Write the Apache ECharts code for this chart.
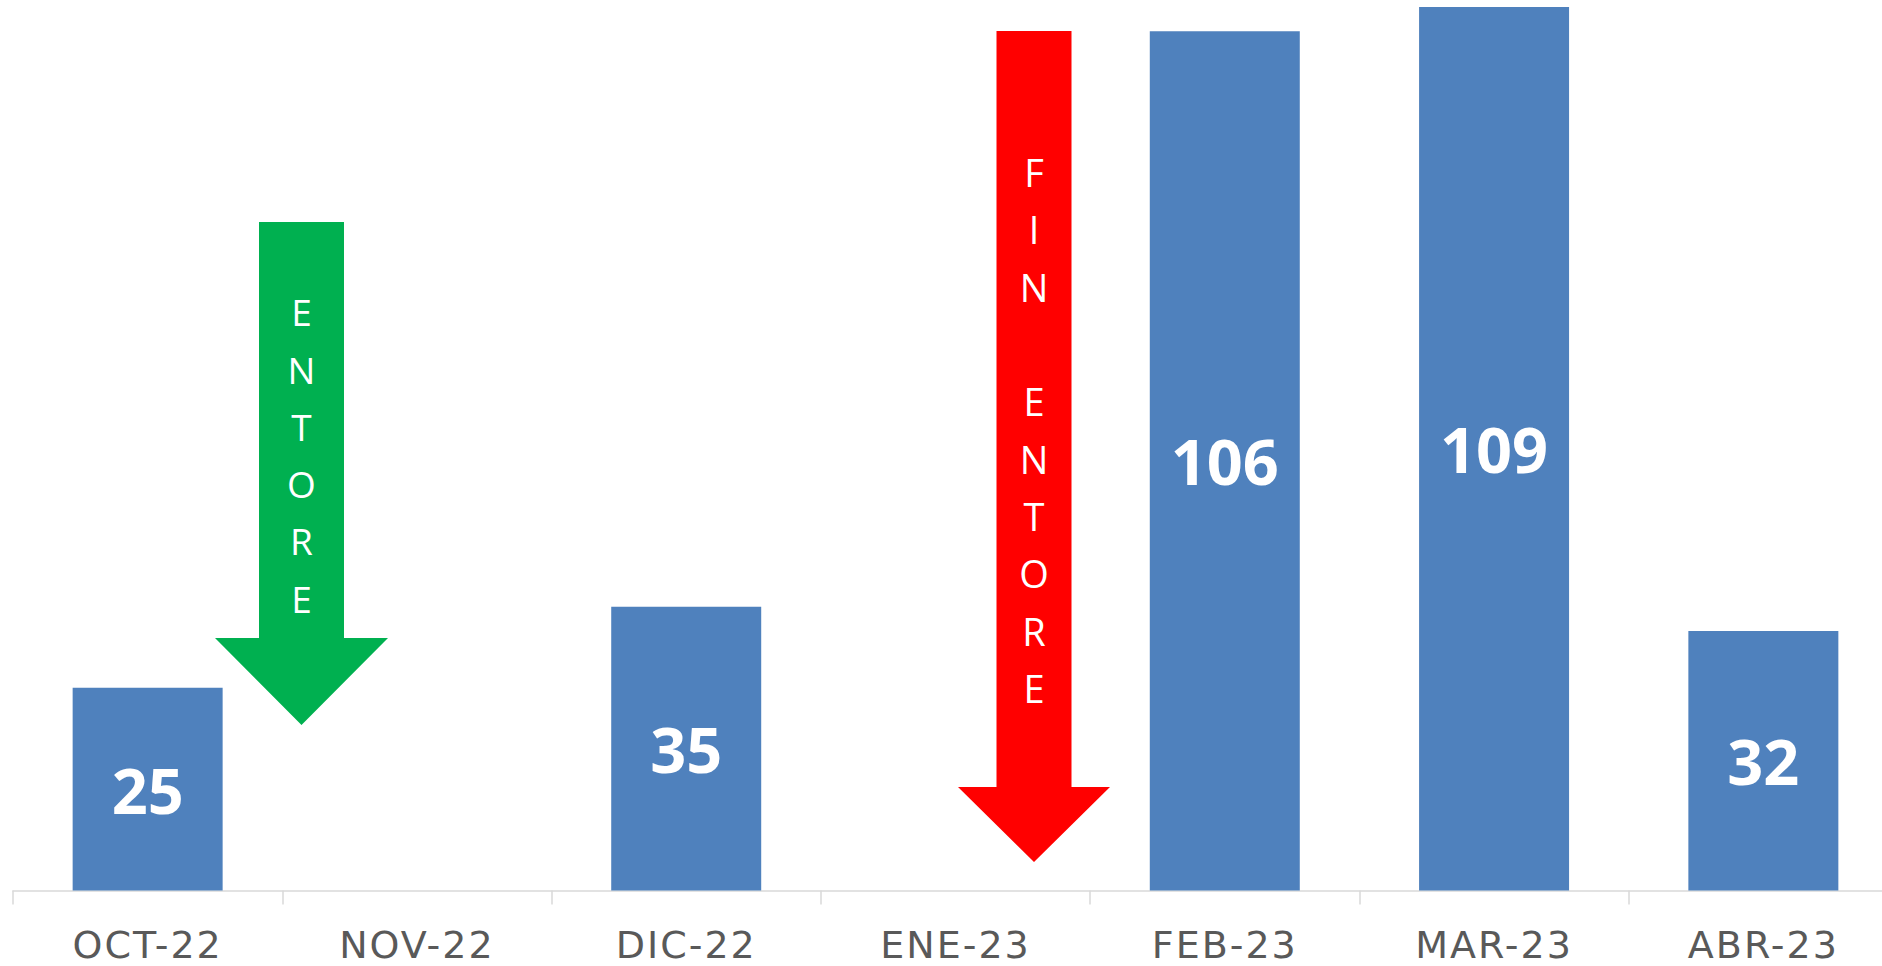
<!DOCTYPE html>
<html>
<head>
<meta charset="utf-8">
<title>Entore</title>
<script src="https://cdn.jsdelivr.net/npm/echarts@6/dist/echarts.min.js"></script>
<style>
  html, body { margin: 0; padding: 0; background: #ffffff; }
  #chart { width: 1882px; height: 966px; }
</style>
</head>
<body>
<div id="chart"></div>
<script>
var months = ['OCT-22', 'NOV-22', 'DIC-22', 'ENE-23', 'FEB-23', 'MAR-23', 'ABR-23'];
var values = [25, null, 35, null, 106, 109, 32];
var greenArrowText = ['E', 'N', 'T', 'O', 'R', 'E'];
var redArrowText = ['F', 'I', 'N', '', 'E', 'N', 'T', 'O', 'R', 'E'];

(function () {
  var barColor = '#4F81BD';
  var axisColor = '#D9D9D9';
  var labelColor = '#595959';

  // arrow outline: shaft from top to neck, then head down to tip
  function arrow(cx, top, neck, tip, shaftHalf, headHalf) {
    return [
      [cx - shaftHalf, top], [cx + shaftHalf, top], [cx + shaftHalf, neck],
      [cx + headHalf, neck], [cx, tip], [cx - headHalf, neck], [cx - shaftHalf, neck]
    ];
  }

  var el = document.getElementById('chart');
  var chart = echarts.init(el, null, { renderer: 'svg' });

  // the category labels are letter-spaced in the original
  chart.on('finished', function () {
    var texts = el.querySelectorAll('svg text');
    for (var i = 0; i < texts.length; i++) {
      if (months.indexOf(texts[i].textContent) >= 0) {
        texts[i].style.letterSpacing = '2px';
      }
    }
  });

  chart.setOption({
    animation: false,
    grid: { left: 13, width: 1885, top: 7, bottom: 75.5, outerBoundsMode: 'none', containLabel: false },
    xAxis: {
      type: 'category',
      data: months,
      axisLine: { lineStyle: { color: axisColor, width: 1.5 } },
      axisTick: { show: true, length: 14, lineStyle: { color: axisColor, width: 1.5 } },
      axisLabel: {
        color: labelColor,
        fontFamily: 'DejaVu Sans',
        fontSize: 38,
        margin: 35,
        interval: 0
      }
    },
    yAxis: {
      type: 'value',
      min: 0,
      max: 109,
      show: false,
      splitLine: { show: false }
    },
    series: [
      {
        type: 'bar',
        data: values,
        barWidth: '55.7%',
        itemStyle: { color: barColor },
        label: {
          show: true,
          position: 'inside',
          color: '#ffffff',
          fontFamily: 'Open Sans',
          fontWeight: 'bold',
          fontSize: 63
        }
      }
    ],
    graphic: [
      {
        type: 'polygon',
        shape: { points: arrow(301.5, 222, 638, 725, 42.5, 86.5) },
        style: { fill: '#00B050' }
      },
      {
        type: 'text',
        x: 301.5,
        y: 455,
        style: {
          text: greenArrowText.join('\n'),
          fill: '#ffffff',
          font: '37px "Open Sans"',
          lineHeight: 57.3,
          align: 'center',
          verticalAlign: 'middle'
        }
      },
      {
        type: 'polygon',
        shape: { points: arrow(1034, 31, 787, 862, 37.5, 76) },
        style: { fill: '#FF0000' }
      },
      {
        type: 'text',
        x: 1034,
        y: 430,
        style: {
          text: redArrowText.join('\n'),
          fill: '#ffffff',
          font: '38px "Open Sans"',
          lineHeight: 57.3,
          align: 'center',
          verticalAlign: 'middle'
        }
      }
    ]
  });
  window.addEventListener('resize', function () { chart.resize(); });
})();
</script>
</body>
</html>
